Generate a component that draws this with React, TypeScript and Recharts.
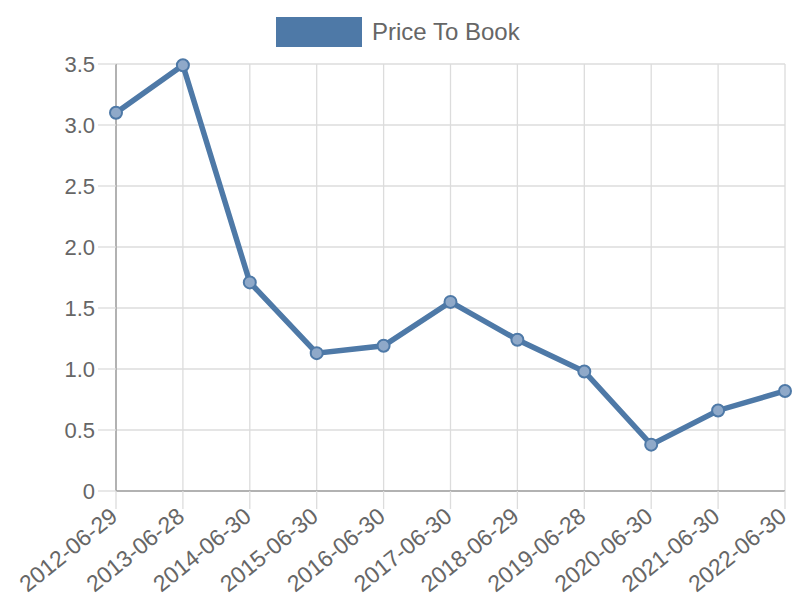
import React from 'react';
import { LineChart, Line, XAxis, YAxis, CartesianGrid } from 'recharts';

const dates = [
  '2012-06-29', '2013-06-28', '2014-06-30', '2015-06-30', '2016-06-30', '2017-06-30',
  '2018-06-29', '2019-06-28', '2020-06-30', '2021-06-30', '2022-06-30',
];
const priceToBook = [3.1, 3.49, 1.71, 1.13, 1.19, 1.55, 1.24, 0.98, 0.38, 0.66, 0.82];
const yTicks = [0, 0.5, 1, 1.5, 2, 2.5, 3, 3.5];

const data = dates.map((d, i) => ({ date: d, ptb: priceToBook[i] }));

const BLUE = '#4e79a7';
const FONT = '"Liberation Sans", Arial, sans-serif';

const DateTick = (props: any) => {
  const { x, y, payload } = props;
  const tx = x + 3;
  const ty = y + 10;
  return (
    <text
      x={tx}
      y={ty}
      transform={`rotate(-39, ${tx}, ${ty})`}
      textAnchor="end"
      fill="#666"
      fontSize={23}
      fontFamily={FONT}
    >
      {payload.value}
    </text>
  );
};

const App: React.FC = () => {
  return (
    <div style={{ position: 'absolute', left: 0, top: 0, width: 800, height: 600, background: '#fff' }}>
      {/* legend */}
      <div style={{ position: 'absolute', left: 276, top: 17, display: 'flex', alignItems: 'center', fontFamily: FONT }}>
        <div style={{ width: 86, height: 30, background: BLUE }} />
        <span style={{ marginLeft: 10, fontSize: 24, color: '#666' }}>Price To Book</span>
      </div>
      <LineChart width={800} height={600} data={data} margin={{ top: 64, right: 15, bottom: 0, left: 0 }}>
        <CartesianGrid stroke="#dcdcdc" strokeWidth={1.3} />
        <XAxis
          dataKey="date"
          interval={0}
          axisLine={{ stroke: '#a0a0a0', strokeWidth: 1.5 }}
          tickLine={{ stroke: '#dcdcdc', strokeWidth: 1.3 }}
          tickSize={18}
          tickMargin={0}
          tick={<DateTick />}
          height={109}
        />
        <YAxis
          width={116}
          domain={[0, 3.5]}
          ticks={yTicks}
          interval={0}
          tickFormatter={(v: number) => (v === 0 ? '0' : v.toFixed(1))}
          axisLine={{ stroke: '#a0a0a0', strokeWidth: 1.5 }}
          tickLine={{ stroke: '#dcdcdc', strokeWidth: 1.3 }}
          tickSize={18}
          tickMargin={3}
          tick={{ fill: '#666', fontSize: 22, fontFamily: FONT }}
        />
        <Line
          type="linear"
          dataKey="ptb"
          stroke={BLUE}
          strokeWidth={5.5}
          dot={{ r: 6, fill: '#8fa9c9', stroke: BLUE, strokeWidth: 2 }}
          isAnimationActive={false}
        />
      </LineChart>
    </div>
  );
};

export default App;
